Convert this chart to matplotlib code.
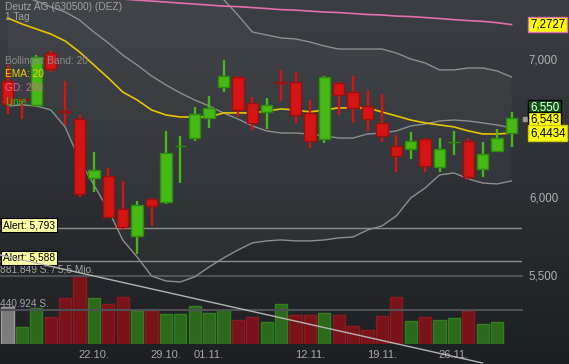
import matplotlib.pyplot as plt
import numpy as np
from matplotlib.ticker import NullLocator

# Deutz AG Tageskerzen 12.10. - 30.11.
dates = ["12.10.", "15.10.", "16.10.", "17.10.", "18.10.", "19.10.",
         "22.10.", "23.10.", "24.10.", "25.10.", "26.10.",
         "29.10.", "30.10.", "31.10.", "01.11.", "02.11.",
         "05.11.", "06.11.", "07.11.", "08.11.", "09.11.",
         "12.11.", "13.11.", "14.11.", "15.11.", "16.11.",
         "19.11.", "20.11.", "21.11.", "22.11.", "23.11.",
         "26.11.", "27.11.", "28.11.", "29.11.", "30.11."]
tick_dates = ["22.10.", "29.10.", "01.11.", "12.11.", "19.11.", "26.11."]

opens = [6.829, 6.690, 6.649, 7.046, 6.605, 6.546, 6.129, 6.143, 5.920, 5.745,
         5.987, 5.967, 6.348, 6.408, 6.550, 6.783, 6.860, 6.664, 6.597, 6.818,
         6.822, 6.590, 6.401, 6.814, 6.745, 6.642, 6.516, 6.352, 6.330, 6.401,
         6.205, 6.376, 6.387, 6.191, 6.316, 6.445]
highs = [6.952, 6.692, 7.030, 7.070, 6.830, 6.575, 6.309, 6.198, 6.108, 5.974,
         5.993, 6.459, 6.420, 6.634, 6.716, 6.990, 6.868, 6.708, 6.701, 6.914,
         6.898, 6.686, 6.868, 6.822, 6.868, 6.761, 6.731, 6.430, 6.452, 6.408,
         6.408, 6.459, 6.408, 6.380, 6.473, 6.597]
lows = [6.582, 6.545, 6.630, 6.900, 6.500, 6.000, 6.033, 5.861, 5.780, 5.630,
        5.810, 5.954, 6.094, 6.387, 6.480, 6.745, 6.560, 6.466, 6.473, 6.679,
        6.516, 6.337, 6.373, 6.575, 6.516, 6.459, 6.380, 6.170, 6.260, 6.170,
        6.170, 6.288, 6.115, 6.136, 6.309, 6.345]
closes = [6.656, 6.686, 7.015, 6.920, 6.600, 6.020, 6.184, 5.868, 5.803, 5.947,
          5.940, 6.302, 6.352, 6.582, 6.627, 6.868, 6.612, 6.516, 6.649, 6.814,
          6.575, 6.387, 6.860, 6.723, 6.627, 6.546, 6.423, 6.281, 6.387, 6.212,
          6.330, 6.380, 6.136, 6.295, 6.408, 6.550]
volumes = [480000, 220000, 467000, 350000, 597000, 881849, 597000, 519000, 610000,
           428000, 428000, 389000, 389000, 493000, 402000, 441000, 311000, 350000,
           285000, 519000, 376000, 376000, 402000, 376000, 233000, 182000, 363000,
           610000, 298000, 350000, 311000, 337000, 428000, 259000, 285000]

ema20 = [7.327, 7.278, 7.237, 7.197, 7.141, 7.054, 6.952, 6.852, 6.746, 6.686,
         6.612, 6.575, 6.560, 6.560, 6.560, 6.590, 6.590, 6.590, 6.604, 6.619,
         6.612, 6.597, 6.612, 6.627, 6.627, 6.627, 6.597, 6.568, 6.538, 6.517,
         6.502, 6.488, 6.459, 6.437, 6.437, 6.4434]
gd200 = [7.529, 7.525, 7.521, 7.512, 7.508, 7.503, 7.495, 7.491, 7.483, 7.474,
         7.466, 7.458, 7.449, 7.441, 7.433, 7.424, 7.420, 7.412, 7.404, 7.395,
         7.391, 7.383, 7.375, 7.371, 7.363, 7.355, 7.351, 7.342, 7.338, 7.330,
         7.322, 7.313, 7.305, 7.299, 7.288, 7.2727]
bb_mid = [7.560, 7.509, 7.467, 7.418, 7.376, 7.310, 7.213, 7.125, 7.030, 6.952,
          6.868, 6.799, 6.738, 6.686, 6.641, 6.590, 6.546, 6.495, 6.459, 6.444,
          6.444, 6.437, 6.423, 6.408, 6.408, 6.437, 6.444, 6.459, 6.495, 6.509,
          6.531, 6.538, 6.531, 6.517, 6.502, 6.481]
bb_upper = [8.48, 8.37, 8.29, 8.22, 8.26, 8.37, 8.35, 8.34, 8.34, 8.29,
            8.24, 8.14, 8.02, 7.88, 7.73, 7.48, 7.351, 7.213, 7.189, 7.165,
            7.157, 7.133, 7.101, 7.077, 7.077, 7.077, 7.077, 7.046, 6.999, 6.968,
            6.914, 6.914, 6.929, 6.929, 6.906, 6.860]
bb_lower = [6.641, 6.649, 6.641, 6.612, 6.488, 6.253, 6.081, 5.913, 5.719, 5.611,
            5.494, 5.463, 5.457, 5.488, 5.549, 5.605, 5.655, 5.700, 5.713, 5.719,
            5.713, 5.713, 5.719, 5.732, 5.738, 5.783, 5.809, 5.874, 5.993, 6.060,
            6.149, 6.163, 6.122, 6.094, 6.088, 6.108]

trend_idx = [-0.52, 33.0]
trend_price = [5.624, 4.985]
alerts = [5.793, 5.588]
vol_marks = [881849, 440924]
vol_texts = ["881.849 S. / 5,5 Mio.", "440.924 S."]

W, H = 569, 364
FONT = "Liberation Sans"
GREEN, GREEN_EDGE = "#46b914", "#2e8b0d"
RED, RED_EDGE = "#d51414", "#9a0f0f"

fig = plt.figure(figsize=(W / 100, H / 100), dpi=100)

# background gradient
bg = fig.add_axes([0, 0, 1, 1])
grad = np.linspace(0, 1, 256).reshape(-1, 1)
top = np.array([59, 63, 68]) / 255
bot = np.array([29, 31, 34]) / 255
img = top + (bot - top) * grad[..., None]
bg.imshow(img, aspect="auto", extent=[0, 1, 0, 1])
bg.axis("off")

rect = [0, 20 / H, 522 / W, 344 / H]
x = np.arange(len(dates))
xlim = (-7.5 / 14.4, (522 - 7.5) / 14.4)

# volume
vax = fig.add_axes(rect, facecolor="none")
vcol, vedge = ["#7c7c7c"], ["#9a9a9a"]
for i in range(1, len(volumes)):
    up = closes[i] > closes[i - 1]
    vcol.append("#2b6a1b" if up else "#7a1219")
    vedge.append("#357d22" if up else "#8c1a1f")
vax.bar(x[:len(volumes)], volumes, width=0.84, color=vcol, edgecolor=vedge, linewidth=1)
vax.hlines(vol_marks, xlim[0], xlim[1] + 0.1, colors="#4c5156", linewidth=1.5, clip_on=False)
for v, t in zip(vol_marks, vol_texts):
    vax.annotate(t, xy=(0, v), xycoords=("axes fraction", "data"), xytext=(0, 1),
                 textcoords="offset pixels", ha="left", va="bottom",
                 color="#a4a4a4", fontsize=7.3, family=FONT)
vax.set_xlim(xlim)
vax.set_ylim(0, 881849 * 344 / 68)
vax.axis("off")

# price chart
ax = fig.add_axes(rect, facecolor="none")
ax.set_yscale("log")
ax.set_xlim(xlim)
ax.set_ylim(5.092, 7.475)

ax.fill_between(x, bb_lower, bb_upper, color="white", alpha=0.035, linewidth=0)
ax.plot(x, bb_upper, color="#8e8e8e", lw=1)
ax.plot(x, bb_mid, color="#8e8e8e", lw=1)
ax.plot(x, bb_lower, color="#8e8e8e", lw=1)
ax.plot(x, ema20, color="#e9c400", lw=1.2)
ax.plot(x, gd200, color="#e36fae", lw=1.2)

ax.hlines(alerts, xlim[0], xlim[1], colors="#8d8d8d", linewidth=1)
for a in alerts:
    ax.annotate(f"Alert: {a:.3f}".replace(".", ","), xy=(0, a),
                xycoords=("axes fraction", "data"), xytext=(3, 3),
                textcoords="offset pixels", ha="left", va="center",
                color="black", fontsize=7.3, family=FONT,
                bbox=dict(boxstyle="square,pad=0.2", fc="#ffffa6", ec="black", lw=0.8))

for i in x:
    o, h, l, c = opens[i], highs[i], lows[i], closes[i]
    up = c > o
    ax.vlines(i, l, h, colors=GREEN if up else RED, linewidth=1.7, zorder=3)
    ax.bar(i, abs(c - o), bottom=min(o, c), width=0.8,
           color=GREEN if up else RED, edgecolor=GREEN_EDGE if up else RED_EDGE,
           linewidth=1, zorder=4)

ax.plot(trend_idx, trend_price, color="#b4b4b4", lw=1, clip_on=False, zorder=5)

ax.yaxis.tick_right()
ax.yaxis.set_minor_locator(NullLocator())
ax.set_yticks([5.5, 6.0, 7.0])
ax.set_yticklabels(["5,500", "6,000", "7,000"])
ax.set_xticks([dates.index(d) for d in tick_dates])
ax.set_xticklabels(tick_dates)
ax.tick_params(axis="y", length=0, pad=5, labelsize=8.3, labelcolor="#b0b0b0")
ax.tick_params(axis="x", length=0, pad=4, labelsize=8, labelcolor="#a8a8a8")
for lab in ax.get_xticklabels() + ax.get_yticklabels():
    lab.set_family(FONT)
for s in ax.spines.values():
    s.set_visible(False)

# value boxes on the right
boxes = [(gd200[-1], "7,2727", "#ffff00", "#e36fae", "black", 0),
         (closes[-1], "6,550", "#0b5a12", "black", "white", 11),
         (6.543, "6,543", "#ffff00", "black", "black", 0),
         (ema20[-1], "6,4434", "#ffff00", "#c8c800", "black", 0)]
for val, txt, fc, ec, tc, dy in boxes:
    ax.annotate(txt, xy=(1, val), xycoords=("axes fraction", "data"),
                xytext=(8, dy), textcoords="offset pixels", ha="left", va="center",
                color=tc, fontsize=8.3, family=FONT, annotation_clip=False,
                bbox=dict(boxstyle="square,pad=0.15", fc=fc, ec=ec, lw=1))
ax.plot([xlim[1] + 0.2], [6.547], marker="s", ms=3, color="#9a9a9a", clip_on=False)

# header and legend
def label(px, py, s, color):
    fig.text(px / W, 1 - py / H, s, color=color, fontsize=7.3, family=FONT,
             ha="left", va="center")

label(5, 7, "Deutz AG (630500) (DEZ)", "#a0a0a0")
label(5, 17, "1 Tag", "#a0a0a0")
label(5, 61, "Bollinger Band: 20", "#8a8a8a")
label(5, 74, "EMA: 20", "#f0d000")
label(5, 88, "GD: 200", "#e0609a")
label(5, 102, "Linie", "#22cc22")

fig.savefig("out.png", dpi=100)
